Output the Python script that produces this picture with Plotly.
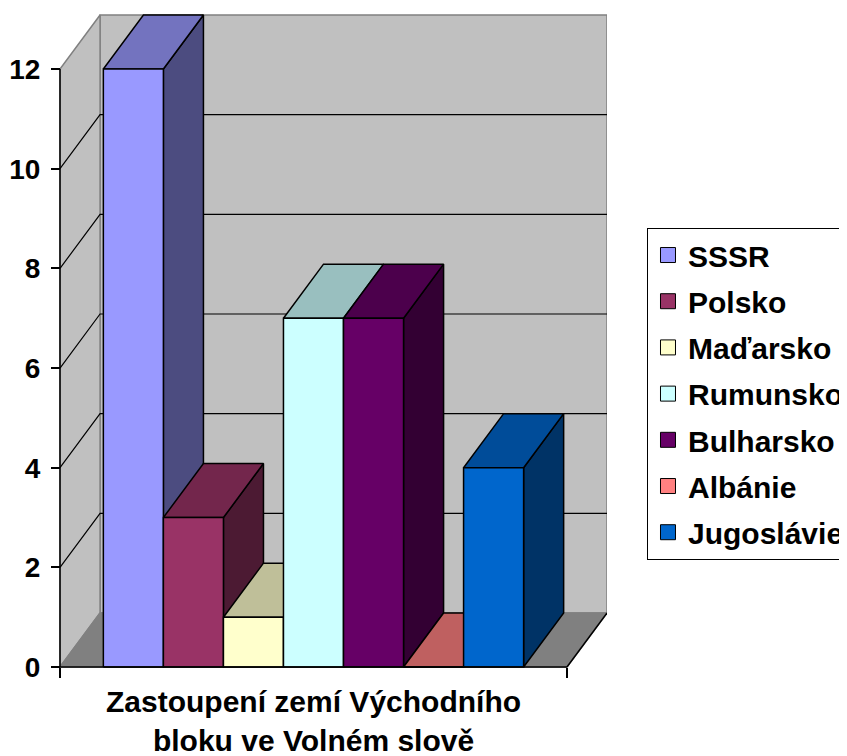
import plotly.graph_objects as go

# ---------------- data ----------------
countries = ["SSSR", "Polsko", "Maďarsko", "Rumunsko", "Bulharsko", "Albánie", "Jugoslávie"]
counts = [12, 3, 1, 7, 7, 0, 4]
front_colors = ["#9999FF", "#993366", "#FFFFCC", "#CCFFFF", "#660066", "#FF8080", "#0066CC"]
y_ticks = [0, 2, 4, 6, 8, 10, 12]
category_title = "Zastoupení zemí Východního<br>bloku ve Volném slově"

# ---------------- 3D projection geometry ----------------
BAR_W = 1.0            # bar width (x unit)
SIDE_GAP = 0.722       # gap between wall and first / last bar
FLOOR_W = 2 * SIDE_GAP + len(counts) * BAR_W
DX = 0.667             # depth offset, x units
DY = 1.085             # depth offset, value units
Y_TOP = max(y_ticks)
X_RANGE = [-0.1667, FLOOR_W + DX]
Y_RANGE = [-0.2, Y_TOP + DY + 0.02]

FONT = "Liberation Sans, Arial, sans-serif"
WALL = "#C0C0C0"
FLOOR = "#808080"
EDGE_GRAY = "#808080"


def shade(hex_color, k):
    h = hex_color.lstrip("#")
    r, g, b = (int(h[i:i + 2], 16) for i in (0, 2, 4))
    return "#%02X%02X%02X" % (round(r * k), round(g * k), round(b * k))


def poly(xs, ys, fill, line_color="black", width=1.5):
    return go.Scatter(
        x=list(xs) + [xs[0]], y=list(ys) + [ys[0]], mode="lines", fill="toself",
        fillcolor=fill, line=dict(color=line_color, width=width),
        showlegend=False, hoverinfo="skip",
    )


def seg(xs, ys, color="black", width=1.2):
    return go.Scatter(x=xs, y=ys, mode="lines", line=dict(color=color, width=width),
                      showlegend=False, hoverinfo="skip")


fig = go.Figure()

# walls and floor
fig.add_trace(poly([DX, DX + FLOOR_W, DX + FLOOR_W, DX], [DY, DY, Y_TOP + DY, Y_TOP + DY], WALL, EDGE_GRAY, 1.5))
fig.add_trace(poly([0, DX, DX, 0], [0, DY, Y_TOP + DY, Y_TOP], WALL, EDGE_GRAY, 1.5))
fig.add_trace(poly([0, FLOOR_W, FLOOR_W + DX, DX], [0, 0, DY, DY], FLOOR, EDGE_GRAY, 1.5))
# black right edge of the floor
fig.add_trace(seg([FLOOR_W, FLOOR_W + DX], [0, DY], "black", 1.5))

# gridlines on walls
for v in y_ticks[1:-1]:
    fig.add_trace(seg([0, DX, DX + FLOOR_W], [v, v + DY, v + DY], "black", 1.2))

# bars (drawn left to right so later bars cover earlier side faces)
for i, (val, col) in enumerate(zip(counts, front_colors)):
    x0 = SIDE_GAP + i * BAR_W
    x1 = x0 + BAR_W
    fig.add_trace(poly([x1, x1 + DX, x1 + DX, x1], [0, DY, val + DY, val], shade(col, 0.5)))
    fig.add_trace(poly([x0, x1, x1 + DX, x0 + DX], [val, val, val + DY, val + DY], shade(col, 0.75)))
    fig.add_trace(poly([x0, x1, x1, x0], [0, 0, val, val], col))

# front axis lines
fig.add_trace(seg([0, 0], [0, Y_TOP], "black", 1.5))
fig.add_trace(seg([0, FLOOR_W], [0, 0], "black", 1.5))

# legend entries
for name, col in zip(countries, front_colors):
    fig.add_trace(go.Scatter(
        x=[None], y=[None], mode="markers", name=name, legendgroup=name,
        marker=dict(symbol="square", size=15, color=col, line=dict(color="black", width=1)),
    ))

fig.add_annotation(
    x=FLOOR_W / 2, y=0, xref="x", yref="y", yanchor="top", yshift=-16,
    text=category_title, showarrow=False, align="center",
    font=dict(family=FONT, size=30, color="black", weight="bold"),
)

fig.update_layout(
    width=847, height=756,
    margin=dict(l=42, r=248, t=6, b=87, autoexpand=False),
    paper_bgcolor="white", plot_bgcolor="white",
    showlegend=True,
    legend=dict(
        x=1.0718, y=0.6772, xanchor="left", yanchor="top",
        bordercolor="black", borderwidth=1, bgcolor="white",
        font=dict(family=FONT, size=30, color="black", weight="bold"),
        tracegroupgap=4.2, itemsizing="trace",
    ),
)

fig.update_xaxes(
    range=X_RANGE, showgrid=False, zeroline=False, showline=False,
    anchor="free", position=(0 - Y_RANGE[0]) / (Y_RANGE[1] - Y_RANGE[0]),
    tickmode="array", tickvals=[0, FLOOR_W], showticklabels=False,
    ticks="outside", ticklen=10, tickwidth=1.5, tickcolor="black",
)
fig.update_yaxes(
    range=Y_RANGE, showgrid=False, zeroline=False, showline=False,
    anchor="free", position=(0 - X_RANGE[0]) / (X_RANGE[1] - X_RANGE[0]),
    tickmode="array", tickvals=y_ticks, ticktext=[str(t) for t in y_ticks],
    ticks="outside", ticklen=9, tickwidth=1.5, tickcolor="black",
    ticklabelstandoff=5,
    tickfont=dict(family=FONT, size=28, color="black", weight="bold"),
)

fig.write_html("out.html")
